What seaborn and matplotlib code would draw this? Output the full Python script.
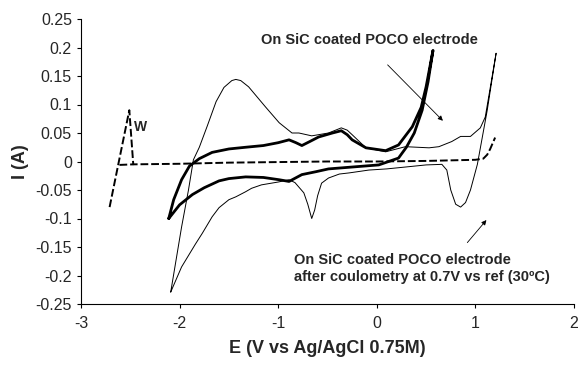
import numpy as np
import pandas as pd
import matplotlib
matplotlib.use("Agg")
import matplotlib.pyplot as plt
import seaborn as sns

# Thin CV curve (SiC coated POCO electrode)
thin_x = [-2.09, -1.98, -1.91, -1.86, -1.80, -1.72, -1.63, -1.55, -1.47, -1.43, -1.38, -1.30, -1.13, -0.99,
          -0.86, -0.79, -0.66, -0.49, -0.36, -0.30, -0.25, -0.11, 0.09, 0.29, 0.53, 0.63, 0.76, 0.85,
          0.95, 1.05, 1.10, 1.21,
          1.12, 1.02, 0.95, 0.90, 0.85, 0.80, 0.75, 0.71, 0.66, 0.50, 0.33, 0.10, -0.08, -0.28, -0.38,
          -0.49, -0.56, -0.60, -0.63, -0.66, -0.70, -0.74, -0.83, -0.89, -1.00, -1.17, -1.27, -1.33,
          -1.43, -1.50, -1.60, -1.67, -1.77, -1.84, -1.91, -1.98, -2.09]
thin_y = [-0.229, -0.115, -0.050, 0.003, 0.025, 0.062, 0.105, 0.130, 0.142, 0.144, 0.142, 0.131, 0.096, 0.068,
          0.050, 0.050, 0.045, 0.050, 0.059, 0.055, 0.047, 0.024, 0.017, 0.026, 0.024, 0.026, 0.035, 0.044,
          0.044, 0.059, 0.078, 0.190,
          0.090, -0.005, -0.050, -0.072, -0.080, -0.075, -0.050, -0.015, -0.005, -0.006, -0.009, -0.013, -0.015, -0.020, -0.022,
          -0.029, -0.038, -0.060, -0.085, -0.100, -0.075, -0.055, -0.037, -0.032, -0.036, -0.041, -0.047, -0.053,
          -0.062, -0.067, -0.081, -0.097, -0.126, -0.145, -0.165, -0.185, -0.229]

# Thick CV curve
thick_x = [-2.11, -2.06, -1.98, -1.90, -1.80, -1.67, -1.50, -1.33, -1.15, -1.00, -0.89, -0.82, -0.76, -0.68,
           -0.59, -0.45, -0.36, -0.30, -0.25, -0.11, 0.09, 0.22, 0.36, 0.45, 0.50, 0.57,
           0.52, 0.46, 0.38, 0.30, 0.22, 0.02, -0.20, -0.49, -0.62, -0.76, -0.89, -0.99, -1.15, -1.33,
           -1.50, -1.60, -1.75, -1.87, -2.00, -2.11]
thick_y = [-0.100, -0.067, -0.032, -0.008, 0.005, 0.016, 0.022, 0.025, 0.028, 0.033, 0.038, 0.033, 0.028, 0.035,
           0.043, 0.050, 0.054, 0.047, 0.038, 0.024, 0.019, 0.029, 0.061, 0.095, 0.131, 0.195,
           0.140, 0.090, 0.050, 0.025, 0.006, -0.006, -0.009, -0.013, -0.018, -0.023, -0.035, -0.032, -0.028, -0.027,
           -0.030, -0.034, -0.046, -0.058, -0.076, -0.100]

# Dashed curve (W electrode)
dash_x = [-2.71, -2.51, -2.47, -2.00, -1.50, -1.00, -0.50, 0.00, 0.50, 1.00, 1.08, 1.12, 1.15, 1.20]
dash_y = [-0.080, 0.090, -0.005, -0.004, -0.002, -0.001, 0.000, 0.000, 0.001, 0.003, 0.005, 0.012, 0.022, 0.042]
dash2_x = [-2.61, -2.47]
dash2_y = [-0.006, -0.005]

x_ticks = [-3, -2, -1, 0, 1, 2]
y_ticks = [-0.25, -0.2, -0.15, -0.1, -0.05, 0, 0.05, 0.1, 0.15, 0.2, 0.25]
y_tick_labels = ["-0.25", "-0.2", "-0.15", "-0.1", "-0.05", "0", "0.05", "0.1", "0.15", "0.2", "0.25"]

sns.set_style("ticks")
plt.rcParams['font.family'] = ['Liberation Sans', 'DejaVu Sans']

fig = plt.figure(figsize=(5.82, 3.68), dpi=100)
ax = fig.add_axes([81/582, 1 - 304/368, (574-81)/582, (304-19)/368])

def draw(xs, ys, **kw):
    df = pd.DataFrame({"E": xs, "I": ys})
    sns.lineplot(data=df, x="E", y="I", sort=False, estimator=None, ax=ax, color="black", **kw)

draw(thin_x, thin_y, linewidth=0.7)
draw(thick_x, thick_y, linewidth=2.0)
draw(dash_x, dash_y, linewidth=1.4, linestyle=(0, (4, 1.5)))
draw(dash2_x, dash2_y, linewidth=1.4, linestyle=(0, (4, 1.5)))

ax.set_xlim(-3, 2)
ax.set_ylim(-0.25, 0.25)
ax.set_xticks(x_ticks)
ax.set_xticklabels([str(t) for t in x_ticks])
ax.set_yticks(y_ticks)
ax.set_yticklabels(y_tick_labels)
ax.tick_params(labelsize=11.5, length=3, width=0.8, color="black")
ax.tick_params(axis="x", pad=6)
ax.set_xlabel("E (V vs Ag/AgCl 0.75M)", fontsize=13, fontweight="bold", labelpad=6)
ax.set_ylabel("I (A)", fontsize=13, fontweight="bold", labelpad=5)
for s in ["left", "bottom"]:
    ax.spines[s].set_color("black")
    ax.spines[s].set_linewidth(0.8)
sns.despine(ax=ax)

ax.text(-2.465, 0.06, "W", fontsize=10, fontweight="bold", ha="left", va="center")
ax.text(-1.17, 0.2135, "On SiC coated POCO electrode", fontsize=10.5, fontweight="bold", ha="left", va="center")
ax.annotate("", xy=(0.69, 0.068), xytext=(0.09, 0.173),
            arrowprops=dict(arrowstyle="-|>", color="black", lw=0.6, mutation_scale=7))
ax.text(-0.84, -0.173, "On SiC coated POCO electrode", fontsize=10.5, fontweight="bold", ha="left", va="center")
ax.text(-0.84, -0.2025, "after coulometry at 0.7V vs ref (30ºC)", fontsize=10.5, fontweight="bold", ha="left", va="center")
ax.annotate("", xy=(1.13, -0.099), xytext=(0.9, -0.146),
            arrowprops=dict(arrowstyle="-|>", color="black", lw=0.6, mutation_scale=7))

fig.savefig("out.png", dpi=100)
